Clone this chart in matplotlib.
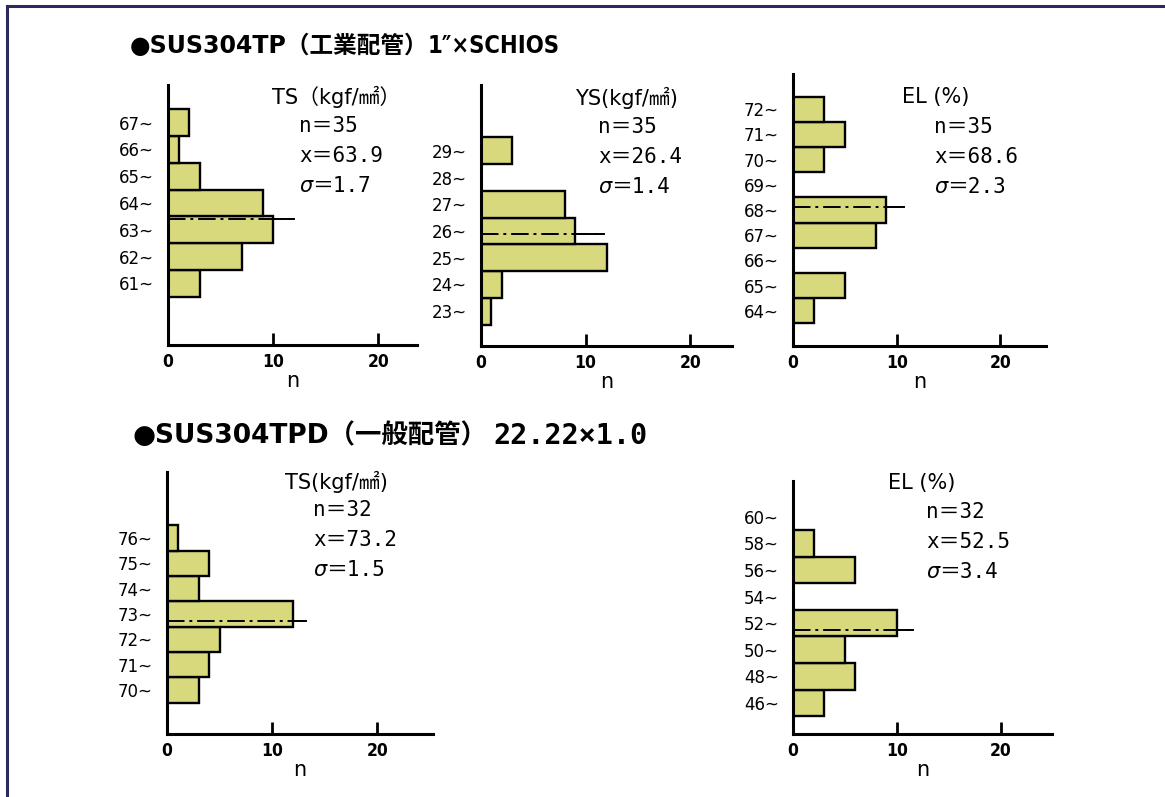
import matplotlib
matplotlib.use("Agg")
import matplotlib.pyplot as plt
from matplotlib.text import Annotation

# ---------------- data ----------------
ts1_bins = [61, 62, 63, 64, 65, 66, 67]
ts1_counts = [3, 7, 10, 9, 3, 1, 2]
ts1_stats = ["TS（kgf/㎟）", "n＝35", "x＝63.9", "σ＝1.7"]
ts1_mean = 63.9

ys1_bins = [23, 24, 25, 26, 27, 28, 29]
ys1_counts = [1, 2, 12, 9, 8, 0, 3]
ys1_stats = ["YS(kgf/㎟)", "n＝35", "x＝26.4", "σ＝1.4"]
ys1_mean = 26.4

el1_bins = [64, 65, 66, 67, 68, 69, 70, 71, 72]
el1_counts = [2, 5, 0, 8, 9, 0, 3, 5, 3]
el1_stats = ["EL (%)", "n＝35", "x＝68.6", "σ＝2.3"]
el1_mean = 68.6

ts2_bins = [70, 71, 72, 73, 74, 75, 76]
ts2_counts = [3, 4, 5, 12, 3, 4, 1]
ts2_stats = ["TS(kgf/㎟)", "n＝32", "x＝73.2", "σ＝1.5"]
ts2_mean = 73.2

el2_bins = [46, 48, 50, 52, 54, 56, 58, 60]
el2_counts = [3, 6, 5, 10, 0, 6, 2, 0]
el2_stats = ["EL (%)", "n＝32", "x＝52.5", "σ＝3.4"]
el2_mean = 52.5

title1_head = "●SUS304TP（工業配管）"
title1_tail = "1″×SCHIOS"
title2_head = "●SUS304TPD（一般配管）"
title2_tail = "22.22×1.0"

# ---------------- look ----------------
W, H = 1165, 797
BAR = "#d8d87c"
SANS_JP = ["DejaVu Sans", "Noto Sans CJK JP"]
MONO_JP = ["DejaVu Sans Mono", "Noto Sans CJK JP", "DejaVu Sans"]

fig = plt.figure(figsize=(W / 100, H / 100), dpi=100)


def fx(x):
    return x / W


def fy(y):
    return 1 - y / H


def after(artist, s, gap=0, **kw):
    # place text s right after another text artist
    a = Annotation(s, xy=(1, 0.5), xycoords=artist, xytext=(gap, 0),
                   textcoords="offset points", va="center", ha="left", **kw)
    fig.add_artist(a)
    return a


def panel(bins, counts, mean, stats, box, xmax, ylim, line_end, head_xy, stat_xy):
    left, right, top, bottom = box
    ax = fig.add_axes([fx(left), fy(bottom), fx(right - left), (bottom - top) / H])
    w = bins[1] - bins[0]
    centers = [b + w / 2 for b in bins]
    for c, n in zip(centers, counts):
        if n > 0:
            ax.barh(c, n, height=w, color=BAR, edgecolor="black", linewidth=1.7, zorder=2)
    # mean line: dash-dot inside the bar, solid past it
    ax.plot([0, line_end], [mean, mean], color="black", lw=1.4,
            linestyle=(0, (9, 2.5, 1.5, 2.5)), zorder=3)
    idx = min(range(len(bins)), key=lambda i: abs(centers[i] - mean))
    ax.plot([counts[idx], line_end], [mean, mean], color="black", lw=1.4, zorder=3)

    ax.set_xlim(0, xmax)
    ax.set_ylim(*ylim)
    ax.set_xticks([0, 10, 20])
    ax.set_xticklabels(["0", "10", "20"], fontsize=12.5, fontweight="bold",
                       family="DejaVu Sans", fontstretch="condensed")
    ax.set_yticks(centers)
    ax.set_yticklabels([f"{b}~" for b in bins], fontsize=12, family="DejaVu Sans")
    ax.tick_params(axis="x", direction="in", length=9, width=2, pad=6)
    ax.tick_params(axis="y", length=0, pad=10)
    ax.set_xlabel("n", fontsize=15, labelpad=0, family="DejaVu Sans")
    for s in ("top", "right"):
        ax.spines[s].set_visible(False)
    for s in ("left", "bottom"):
        ax.spines[s].set_linewidth(2.2)
    ax.patch.set_alpha(0)

    fig.text(fx(head_xy[0]), fy(head_xy[1]), stats[0], fontsize=15,
             family=SANS_JP, va="center", ha="left")
    for k, t in enumerate(stats[1:]):
        xy = (fx(stat_xy[0]), fy(stat_xy[1] + 30 * k))
        if t.startswith("σ"):
            sig = fig.text(*xy, "σ", fontsize=15, style="italic",
                           family="DejaVu Sans", va="center", ha="left")
            after(sig, t[1:], fontsize=15, family=MONO_JP)
        else:
            fig.text(*xy, t, fontsize=15, family=MONO_JP, va="center", ha="left")
    return ax


panel(ts1_bins, ts1_counts, ts1_mean, ts1_stats, (168, 417, 85, 345), 23.7,
      (59.2, 68.9), 12.0, (272, 97), (299, 126))
panel(ys1_bins, ys1_counts, ys1_mean, ys1_stats, (481, 732, 85, 346), 24.0,
      (22.2, 31.96), 11.8, (575, 98), (598, 127))
panel(el1_bins, el1_counts, el1_mean, el1_stats, (793, 1046, 74, 346), 24.4,
      (63.1, 73.9), 10.7, (902, 97), (934, 127))
panel(ts2_bins, ts2_counts, ts2_mean, ts2_stats, (167, 433, 472, 734), 25.3,
      (68.76, 79.1), 13.2, (285, 482), (313, 510))
panel(el2_bins, el2_counts, el2_mean, el2_stats, (793, 1052, 481, 734), 24.9,
      (44.66, 63.7), 11.5, (888, 483), (926, 512))

head1 = fig.text(fx(130), fy(46), title1_head, fontsize=17, fontweight="bold",
                 family=SANS_JP, va="center", ha="left")
after(head1, title1_tail, gap=-1, fontsize=17, fontweight="bold",
      family=SANS_JP, fontstretch="condensed")
head2 = fig.text(fx(132), fy(436), title2_head, fontsize=19, fontweight="bold",
                 family=SANS_JP, va="center", ha="left")
after(head2, title2_tail, gap=5, fontsize=20.5, fontweight="bold", family=MONO_JP)

# page frame (top and left edges)
fig.add_artist(plt.Line2D([fx(7), 1], [fy(6), fy(6)], color="#2b2a5c", lw=2.2))
fig.add_artist(plt.Line2D([fx(7), fx(7)], [fy(6), 0], color="#2b2a5c", lw=2.2))

fig.savefig("out.png", dpi=100)
